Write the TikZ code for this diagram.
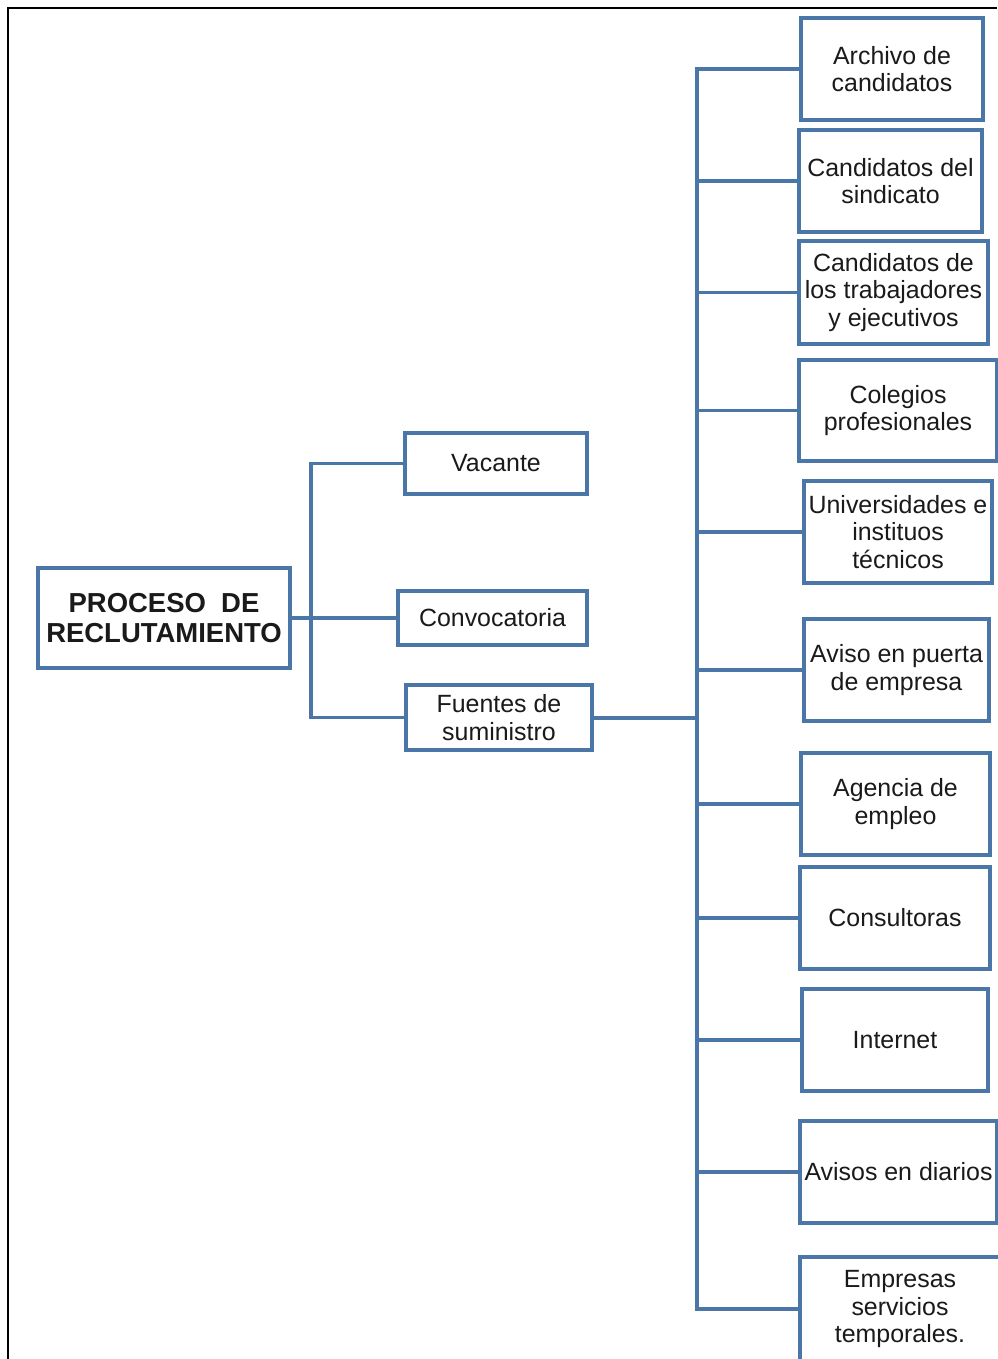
\documentclass[tikz,border=0pt]{standalone}
\usepackage{fontspec}
\setmainfont{Liberation Sans}
\definecolor{boxblue}{HTML}{4A76A8}
\definecolor{txt}{HTML}{1A1A1A}
\begin{document}
\begin{tikzpicture}[x=0.75pt,y=-0.75pt,
  box/.style={draw=boxblue,line width=2.3pt,fill=white,rectangle,inner sep=0pt,
    align=center,text=txt,font=\fontsize{18.7}{20.4}\selectfont},
  conn/.style={draw=boxblue,line width=2.3pt},
  frame/.style={draw=black,line width=1.6pt}]
\useasboundingbox (0,0) rectangle (997,1359);
% frame
\draw[frame] (8,1359) -- (8,8) -- (997,8);
% left part
\node[box,minimum width=252*0.75pt,minimum height=100*0.75pt,font=\fontsize{20.6}{22.8}\selectfont\bfseries] (proc) at (164,618) {PROCESO\ \ DE\\RECLUTAMIENTO};
\node[box,minimum width=182*0.75pt,minimum height=61*0.75pt] (vac) at (496,463.5) {Vacante};
\node[box,minimum width=189*0.75pt,minimum height=54*0.75pt] (conv) at (492.5,618) {Convocatoria};
\node[box,minimum width=186*0.75pt,minimum height=65*0.75pt] (fu) at (499,717.5) {Fuentes de\\suministro};
% right boxes
\node[box,minimum width=182*0.75pt,minimum height=102*0.75pt] (r1) at (892,69) {Archivo de\\candidatos};
\node[box,minimum width=183*0.75pt,minimum height=102*0.75pt] (r2) at (890.5,181) {Candidatos del\\sindicato};
\node[box,minimum width=189*0.75pt,minimum height=103*0.75pt] (r3) at (893.5,292.5) {Candidatos de\\los trabajadores\\y ejecutivos};
\node[box,minimum width=198*0.75pt,minimum height=101*0.75pt] (r4) at (898,410.5) {Colegios\\profesionales};
\node[box,minimum width=188*0.75pt,minimum height=102*0.75pt] (r5) at (898,532) {Universidades e\\instituos\\técnicos};
\node[box,minimum width=185*0.75pt,minimum height=102*0.75pt] (r6) at (896.5,670) {Aviso en puerta\\de empresa};
\node[box,minimum width=189*0.75pt,minimum height=102*0.75pt] (r7) at (895.5,804) {Agencia de\\empleo};
\node[box,minimum width=190*0.75pt,minimum height=102*0.75pt] (r8) at (895,918) {Consultoras};
\node[box,minimum width=186*0.75pt,minimum height=102*0.75pt] (r9) at (895,1040) {Internet};
\node[box,minimum width=197*0.75pt,minimum height=102*0.75pt] (r10) at (898.5,1172) {Avisos en diarios};
\node[box,minimum width=200*0.75pt,minimum height=104*0.75pt] (r11) at (900,1309) {Empresas\\servicios\\temporales.};
% left connectors
\coordinate (lt) at (311,618);
\draw[conn] (proc.east) -- (conv.west);
\draw[conn] (lt) |- (vac.west);
\draw[conn] (lt) |- (fu.west);
% right connectors
\coordinate (rt) at (697,717.5);
\draw[conn,line width=3pt] (fu.east) -- (rt);
\foreach \n in {r1,r2,r3,r4,r5,r6,r7,r8,r9,r10,r11}{
  \draw[conn] (rt) |- (\n.west);
}
\end{tikzpicture}
\end{document}
